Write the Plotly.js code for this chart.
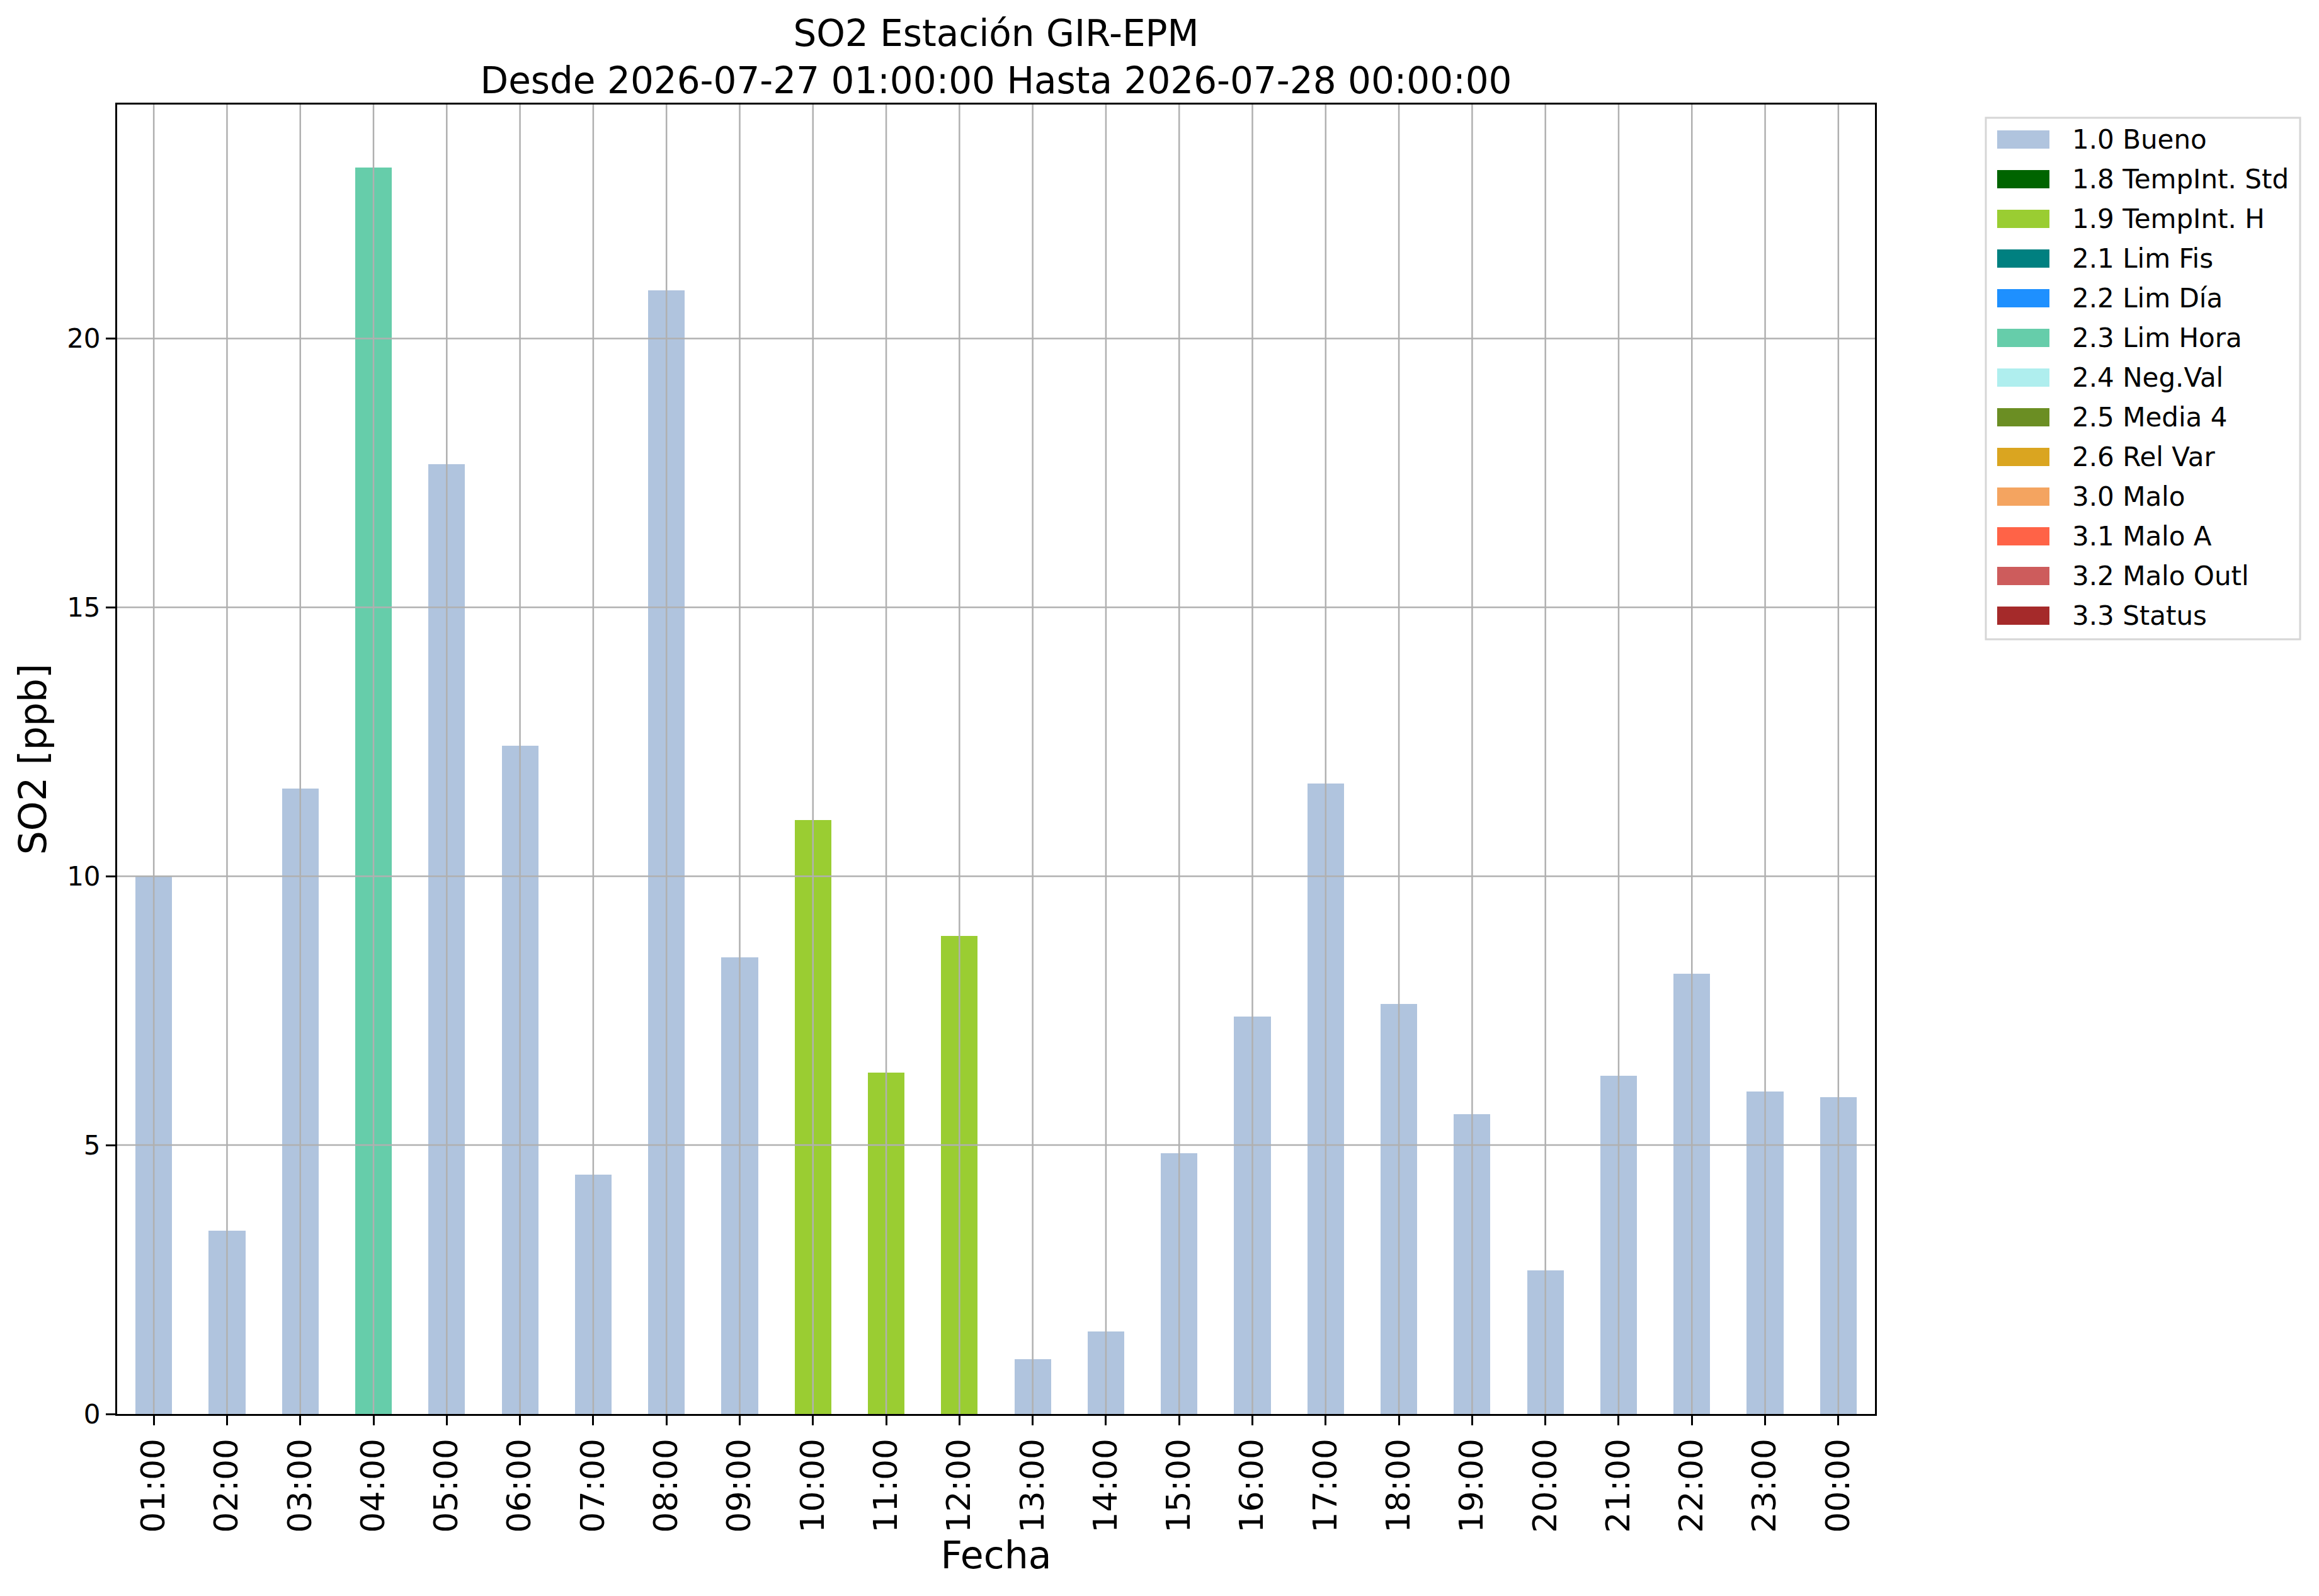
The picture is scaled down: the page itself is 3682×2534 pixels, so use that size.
<!DOCTYPE html>
<html>
<head>
<meta charset="utf-8">
<script src="https://cdn.plot.ly/plotly-3.0.1.min.js"></script>
<style>body{margin:0;background:#fff}</style>
</head>
<body>
<div id="graph"></div>
<script>
// horas del día y concentración horaria de SO2 (ppb)
var horas = ['01:00','02:00','03:00','04:00','05:00','06:00','07:00','08:00','09:00','10:00','11:00','12:00',
             '13:00','14:00','15:00','16:00','17:00','18:00','19:00','20:00','21:00','22:00','23:00','00:00'];
var so2 = [10.0, 3.41, 11.63, 23.18, 17.66, 12.43, 4.45, 20.9, 8.49, 11.05, 6.35, 8.89,
           1.02, 1.54, 4.85, 7.39, 11.72, 7.62, 5.57, 2.67, 6.29, 8.19, 6.0, 5.89];
// bandera de calidad de cada hora
var banderas = ['1.0','1.0','1.0','2.3','1.0','1.0','1.0','1.0','1.0','1.9','1.9','1.9',
                '1.0','1.0','1.0','1.0','1.0','1.0','1.0','1.0','1.0','1.0','1.0','1.0'];

var codigos = ['1.0','1.8','1.9','2.1','2.2','2.3','2.4','2.5','2.6','3.0','3.1','3.2','3.3'];
var nombres = ['1.0 Bueno','1.8 TempInt. Std','1.9 TempInt. H','2.1 Lim Fis','2.2 Lim Día','2.3 Lim Hora',
               '2.4 Neg.Val','2.5 Media 4','2.6 Rel Var','3.0 Malo','3.1 Malo A','3.2 Malo Outl','3.3 Status'];
var colores = ['#b0c4de','#006400','#9acd32','#008080','#1e90ff','#66cdaa',
               '#afeeee','#6b8e23','#daa520','#f4a460','#ff6347','#cd5c5c','#a52a2a'];
var ticksY = [0, 5, 10, 15, 20];

var W = 3682, H = 2534;
var margen = {l: 186, r: 705, t: 166, b: 289, pad: 0};
var anchoP = W - margen.l - margen.r, altoP = H - margen.t - margen.b;
function px2x(p) { return (p - margen.l) / anchoP; }
function px2y(p) { return (H - margen.b - p) / altoP; }

var data = [];
for (var k = 0; k < codigos.length; k++) {
    var ys = so2.map(function (v, i) { return banderas[i] == codigos[k] ? v : null; });
    data.push({type: 'bar', x: horas, y: ys, name: nombres[k], width: 0.5,
               marker: {color: colores[k], line: {width: 0}}, showlegend: false, hoverinfo: 'x+y+name'});
}

var gris = '#b0b0b0';
var shapes = [];
// rejilla por encima de las barras, como en el original
horas.forEach(function (h, i) {
    shapes.push({type: 'line', layer: 'above', xref: 'x', yref: 'paper', x0: i, x1: i, y0: 0, y1: 1,
                 line: {color: gris, width: 2.5}});
});
ticksY.slice(1).forEach(function (t) {
    shapes.push({type: 'line', layer: 'above', xref: 'paper', yref: 'y', x0: 0, x1: 1, y0: t, y1: t,
                 line: {color: gris, width: 2.5}});
});

// leyenda dibujada a mano (muestras anchas como matplotlib)
var annotations = [];
shapes.push({type: 'rect', layer: 'above', xref: 'paper', yref: 'paper',
             x0: px2x(3153), x1: px2x(3652), y0: px2y(187), y1: px2y(1015),
             line: {color: '#d6d6d6', width: 3}, fillcolor: 'white'});
nombres.forEach(function (n, i) {
    var yc = 221.5 + i * 63;
    shapes.push({type: 'rect', layer: 'above', xref: 'paper', yref: 'paper',
                 x0: px2x(3171), x1: px2x(3254), y0: px2y(yc - 14.5), y1: px2y(yc + 14.5),
                 line: {width: 0}, fillcolor: colores[i]});
    annotations.push({xref: 'paper', yref: 'paper', x: px2x(3288), y: px2y(yc), xanchor: 'left', yanchor: 'middle',
                      text: n, showarrow: false, font: {size: 42, color: 'black'}});
});

var layout = {
    width: W, height: H, margin: margen,
    paper_bgcolor: 'white', plot_bgcolor: 'white',
    font: {family: 'DejaVu Sans', color: 'black'},
    showlegend: false, barmode: 'overlay', bargap: 0,
    title: {text: 'SO2 Estación GIR-EPM<br>Desde 2026-07-27 01:00:00 Hasta 2026-07-28 00:00:00',
            font: {size: 58, color: 'black'}, x: 0.5, xref: 'paper', xanchor: 'center',
            y: 1, yref: 'paper', yanchor: 'bottom', pad: {b: 93}},
    xaxis: {type: 'category', range: [-0.5, 23.5], tickangle: -90, tickfont: {size: 52},
            ticks: 'outside', ticklen: 15, tickwidth: 3, tickcolor: 'black',
            showline: true, linecolor: 'black', linewidth: 3, mirror: true,
            showgrid: false, zeroline: false, automargin: false,
            title: {text: 'Fecha', font: {size: 60}, standoff: 8}},
    yaxis: {range: [0, 24.35], tickvals: ticksY, tickfont: {size: 42},
            ticks: 'outside', ticklen: 15, tickwidth: 3, tickcolor: 'black',
            showline: true, linecolor: 'black', linewidth: 3, mirror: true,
            showgrid: false, zeroline: false, automargin: false,
            title: {text: 'SO2 [ppb]', font: {size: 60}, standoff: 14}},
    shapes: shapes,
    annotations: annotations
};

Plotly.newPlot('graph', data, layout, {displayModeBar: false, staticPlot: true});
</script>
</body>
</html>
